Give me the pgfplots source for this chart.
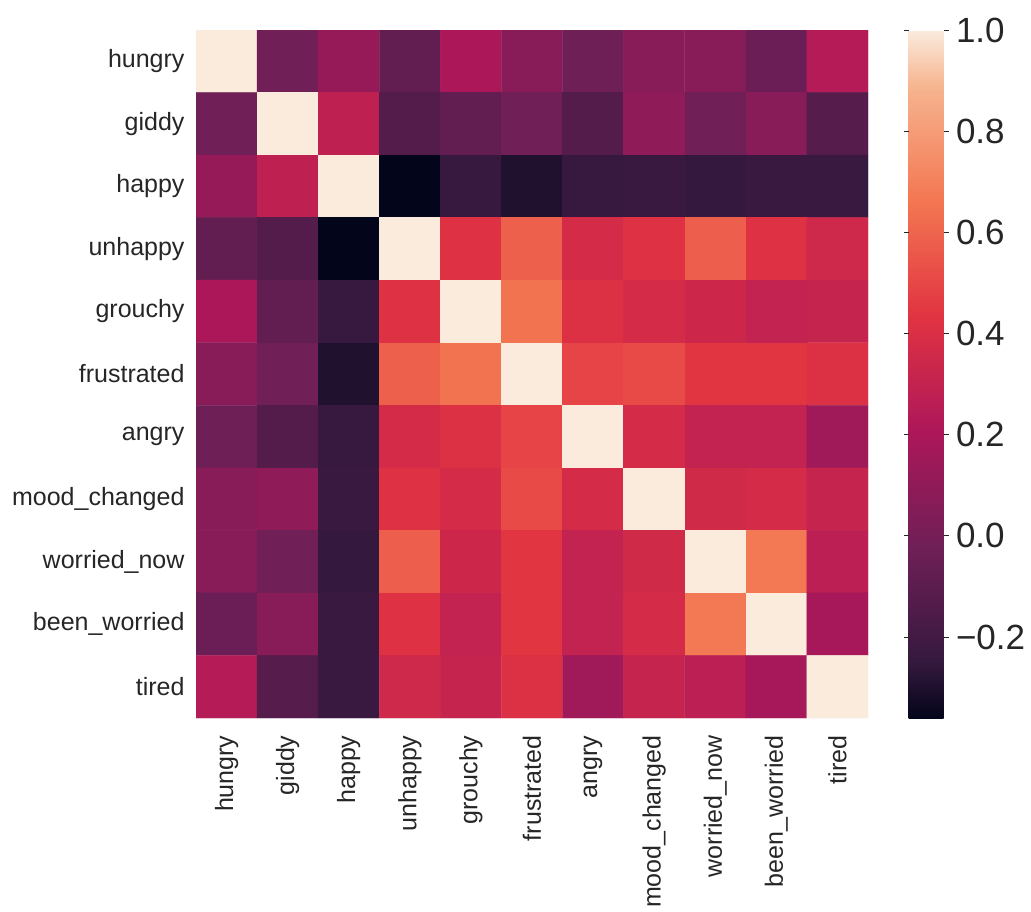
\documentclass[border=0pt]{standalone}
\usepackage{pgfplots}
\pgfplotsset{compat=1.18}
\usepackage{fontspec}
\setmainfont{Liberation Sans}
\definecolor{textgray}{HTML}{262626}
\pgfplotsset{colormap={rocket}{rgb255(0cm)=(3,5,26) rgb255(0.83cm)=(53,25,62) rgb255(2.5cm)=(112,31,87) rgb255(4.17cm)=(173,23,89) rgb255(5.83cm)=(225,51,66) rgb255(7.5cm)=(243,118,81) rgb255(9.17cm)=(246,180,143) rgb255(10cm)=(250,235,221)}}
\begin{document}
\begin{tikzpicture}
\path (0,0) rectangle (1031bp,-907bp);
\begin{axis}[
  at={(196bp,-30bp)}, anchor=north west,
  scale only axis, width=672bp, height=688bp,
  xmin=-0.5, xmax=10.5, ymin=-0.5, ymax=10.5,
  y dir=reverse,
  axis line style={draw=none},
  major tick length=0pt,
  xtick={0,...,10}, ytick={0,...,10},
  xticklabels={hungry,giddy,happy,unhappy,grouchy,frustrated,angry,mood\_changed,worried\_now,been\_worried,tired},
  yticklabels={hungry,giddy,happy,unhappy,grouchy,frustrated,angry,mood\_changed,worried\_now,been\_worried,tired},
  tick label style={font=\fontsize{25bp}{30bp}\selectfont, text=textgray},
  xticklabel style={rotate=90, anchor=east},
  xticklabel shift=14bp,
  yticklabel shift=8bp,
  colormap name=rocket,
  point meta min=-0.36, point meta max=1.0,
  colorbar,
  colorbar/width=35bp,
  colorbar style={
    at={(parent axis.north east)}, anchor=north west, xshift=32bp,
    scale only axis,
    width=35bp,
    axis line style={draw=none},
    ytick={-0.2,0,0.2,0.4,0.6,0.8,1.0},
    yticklabels={−0.2,0.0,0.2,0.4,0.6,0.8,1.0},
    yticklabel style={font=\fontsize{35bp}{40bp}\selectfont, text=textgray, xshift=4bp},
    tick align=outside, major tick length=5bp,
    tick style={color=textgray, line width=0.8bp},
  },
]
\addplot[matrix plot*, mesh/cols=11, point meta=explicit] table[x=x, y=y, meta=c] {
x y c
0 0 1
1 0 -0.02
2 0 0.12
3 0 -0.07
4 0 0.20
5 0 0.065
6 0 -0.03
7 0 0.07
8 0 0.07
9 0 -0.04
10 0 0.24
0 1 -0.02
1 1 1
2 1 0.28
3 1 -0.13
4 1 -0.07
5 1 -0.02
6 1 -0.13
7 1 0.095
8 1 -0.02
9 1 0.065
10 1 -0.12
0 2 0.12
1 2 0.28
2 2 1
3 2 -0.36
4 2 -0.24
5 2 -0.295
6 2 -0.24
7 2 -0.23
8 2 -0.25
9 2 -0.23
10 2 -0.23
0 3 -0.07
1 3 -0.13
2 3 -0.36
3 3 1
4 3 0.42
5 3 0.59
6 3 0.37
7 3 0.42
8 3 0.58
9 3 0.42
10 3 0.35
0 4 0.20
1 4 -0.07
2 4 -0.24
3 4 0.42
4 4 1
5 4 0.65
6 4 0.41
7 4 0.37
8 4 0.34
9 4 0.30
10 4 0.31
0 5 0.065
1 5 -0.02
2 5 -0.295
3 5 0.59
4 5 0.65
5 5 1
6 5 0.49
7 5 0.51
8 5 0.44
9 5 0.44
10 5 0.41
0 6 -0.03
1 6 -0.13
2 6 -0.24
3 6 0.37
4 6 0.41
5 6 0.49
6 6 1
7 6 0.37
8 6 0.30
9 6 0.30
10 6 0.16
0 7 0.07
1 7 0.095
2 7 -0.23
3 7 0.42
4 7 0.37
5 7 0.51
6 7 0.37
7 7 1
8 7 0.36
9 7 0.37
10 7 0.31
0 8 0.07
1 8 -0.02
2 8 -0.25
3 8 0.58
4 8 0.34
5 8 0.44
6 8 0.30
7 8 0.36
8 8 1
9 8 0.67
10 8 0.27
0 9 -0.04
1 9 0.065
2 9 -0.23
3 9 0.42
4 9 0.30
5 9 0.44
6 9 0.30
7 9 0.37
8 9 0.67
9 9 1
10 9 0.18
0 10 0.24
1 10 -0.12
2 10 -0.23
3 10 0.35
4 10 0.31
5 10 0.41
6 10 0.16
7 10 0.31
8 10 0.27
9 10 0.18
10 10 1
};
\end{axis}
\end{tikzpicture}
\end{document}
